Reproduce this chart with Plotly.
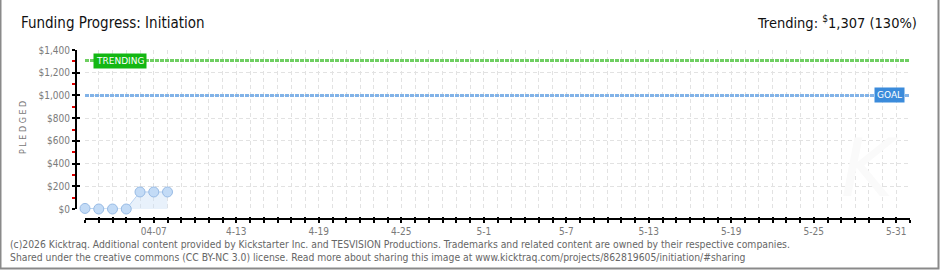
import plotly.graph_objects as go

# ---- data ----
dates = ["2026-04-02", "2026-04-03", "2026-04-04", "2026-04-05",
         "2026-04-06", "2026-04-07", "2026-04-08"]
pledged = [5, 0, 0, 0, 150, 150, 150]
goal = 1000
trending = 1307
trending_pct = 130
x_start, x_end = "2026-04-02", "2026-06-01"
x_tickvals = ["2026-04-07", "2026-04-13", "2026-04-19", "2026-04-25", "2026-05-01",
              "2026-05-07", "2026-05-13", "2026-05-19", "2026-05-25", "2026-05-31"]
x_ticktext = ["04-07", "4-13", "4-19", "4-25", "5-1", "5-7", "5-13", "5-19", "5-25", "5-31"]
y_tickvals = [0, 200, 400, 600, 800, 1000, 1200, 1400]
y_ticktext = ["$0", "$200", "$400", "$600", "$800", "$1,000", "$1,200", "$1,400"]
y_minor_vals = [100, 300, 500, 700, 900, 1100, 1300]

W, H = 940, 270
def px(x): return x / W
def py(y): return 1 - y / H

tick_font = dict(family="DejaVu Sans Condensed, Roboto, sans-serif", size=10, color="#7a7a7a")
grid_col = "#e2e2e2"

fig = go.Figure()

# pledged series
fig.add_trace(go.Scatter(
    x=dates, y=pledged, mode="lines+markers", fill="tozeroy",
    fillcolor="rgba(205,225,247,0.45)",
    line=dict(color="#b8d2f0", width=1),
    marker=dict(size=10, color="#c3dbf6", line=dict(color="#98bbe5", width=1)),
    cliponaxis=False, showlegend=False, hoverinfo="skip"))

# goal & trending lines
fig.add_trace(go.Scatter(
    x=[x_start, x_end], y=[goal, goal], mode="lines",
    line=dict(color="#82b3e8", width=3, dash="4px,1px"),
    showlegend=False, hoverinfo="skip"))
fig.add_trace(go.Scatter(
    x=[x_start, x_end], y=[trending, trending], mode="lines",
    line=dict(color="#6fcf62", width=3, dash="4px,1px"),
    showlegend=False, hoverinfo="skip"))

# dummy trace to create overlay axes (inside ticks)
fig.add_trace(go.Scatter(x=[x_start], y=[None], xaxis="x2", yaxis="y2",
                         showlegend=False, hoverinfo="skip"))

xdom = [px(85), px(910)]
ydom = [py(209), py(50)]

fig.update_layout(
    width=W, height=H, margin=dict(l=0, r=0, t=0, b=0),
    paper_bgcolor="white", plot_bgcolor="white",
    xaxis=dict(
        type="date", domain=xdom, range=[x_start, x_end],
        anchor="free", position=py(219),
        showline=True, linecolor="#000", linewidth=2,
        ticks="outside", ticklen=3, tickcolor="#000", tickwidth=2,
        tickvals=x_tickvals, ticktext=x_ticktext, tickfont=tick_font,
        showgrid=True, gridcolor=grid_col, griddash="4px,3px", gridwidth=1,
        zeroline=False, automargin=False, fixedrange=True,
        minor=dict(dtick=86400000, tick0=x_start, ticks="outside", ticklen=3,
                   tickcolor="#000", tickwidth=2,
                   showgrid=True, gridcolor=grid_col, griddash="4px,3px", gridwidth=1),
    ),
    xaxis2=dict(
        type="date", overlaying="x", range=[x_start, x_end],
        anchor="free", position=py(219),
        showline=False, ticks="inside", ticklen=2, tickcolor="#000", tickwidth=2,
        tickvals=x_tickvals, showticklabels=False, showgrid=False, zeroline=False,
        automargin=False,
        minor=dict(dtick=86400000, tick0=x_start, ticks="inside", ticklen=2,
                   tickcolor="#000", tickwidth=2, showgrid=False),
    ),
    yaxis=dict(
        domain=ydom, range=[0, 1400],
        anchor="free", position=px(76),
        showline=True, linecolor="#000", linewidth=2,
        ticks="outside", ticklen=3, tickcolor="#000", tickwidth=2,
        tickvals=y_tickvals, ticktext=y_ticktext, tickfont=tick_font,
        showgrid=True, gridcolor=grid_col, griddash="4px,3px", gridwidth=1,
        zeroline=False, automargin=False, fixedrange=True,
        minor=dict(tickmode="array", tickvals=y_minor_vals, ticks="outside", ticklen=3,
                   tickcolor="#e00000", tickwidth=2, showgrid=False),
    ),
    yaxis2=dict(
        overlaying="y", range=[0, 1400], anchor="free", position=px(76),
        showline=False, ticks="inside", ticklen=3, tickcolor="#000", tickwidth=2,
        tickvals=y_tickvals, showticklabels=False, showgrid=False, zeroline=False,
        automargin=False,
    ),
    shapes=[dict(type="rect", xref="paper", yref="paper",
                 x0=px(0.5), x1=px(938.5), y0=py(268.5), y1=py(-2),
                 line=dict(color="#8a8a8a", width=2))],
)

title_font = dict(family="DejaVu Sans Condensed, Roboto, sans-serif", size=15, color="#111")
ann = [
    dict(text="Funding Progress: Initiation", x=px(19), y=py(23), xanchor="left",
         yanchor="middle", font=title_font),
    dict(text=f"Trending: <sup>$</sup>{trending:,} ({trending_pct}%)", x=px(919), y=py(22),
         xanchor="right", yanchor="middle",
         font=dict(family="DejaVu Sans Condensed, Roboto, sans-serif", size=14.5, color="#111")),
    dict(text="P L E D G E D", x=px(23), y=py(128), textangle=-90, xanchor="center",
         yanchor="middle", font=dict(family="DejaVu Sans, sans-serif", size=8, color="#777")),
    dict(text="TRENDING", x=px(93), y=trending, yref="y", xanchor="left", yanchor="middle",
         bgcolor="#13b713", borderpad=2,
         font=dict(family="DejaVu Sans, sans-serif", size=9, color="white")),
    dict(text="GOAL", x=px(905), y=goal, yref="y", xanchor="right", yanchor="middle",
         bgcolor="#3b8bdb", borderpad=2,
         font=dict(family="DejaVu Sans, sans-serif", size=9, color="white")),
    dict(text="<i>K</i>", x=px(870), y=py(168), xanchor="center", yanchor="middle",
         font=dict(family="DejaVu Sans, sans-serif", size=80, color="#fafafa")),
    dict(text="(c)2026 Kicktraq. Additional content provided by Kickstarter Inc. and TESVISION Productions. "
              "Trademarks and related content are owned by their respective companies.<br>"
              "Shared under the creative commons (CC BY-NC 3.0) license. Read more about sharing this image at "
              "www.kicktraq.com/projects/862819605/initiation/#sharing",
         x=px(8), y=py(250), xanchor="left", yanchor="middle", align="left",
         font=dict(family="DejaVu Sans Condensed, sans-serif", size=10.3, color="#666")),
]
for a in ann:
    a.setdefault("xref", "paper")
    a.setdefault("yref", "paper")
    a["showarrow"] = False
fig.update_layout(annotations=ann)

fig.write_html("out.html")
